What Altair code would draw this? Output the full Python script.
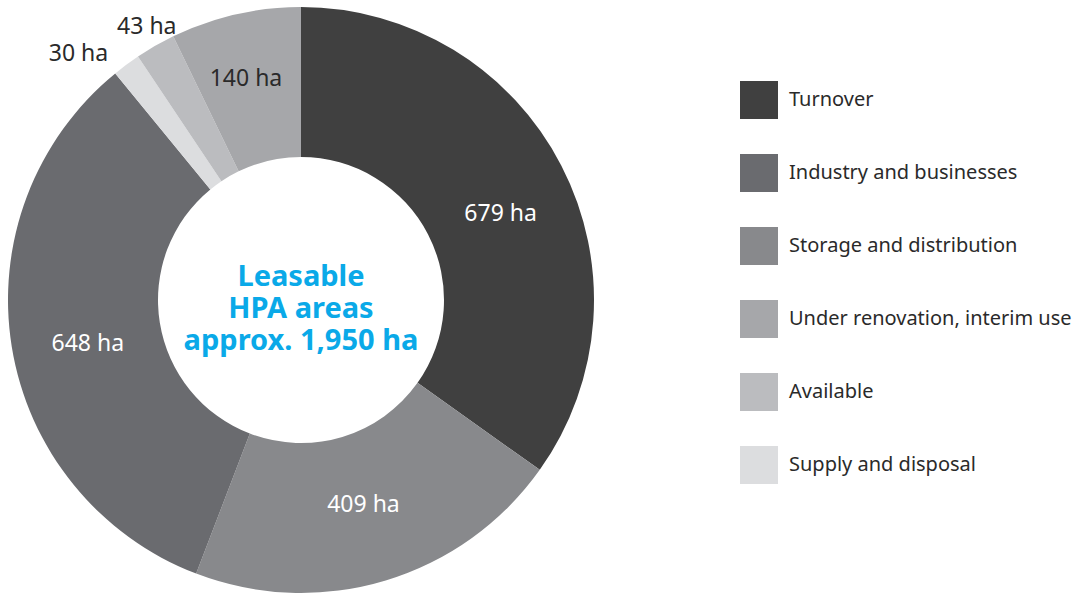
import altair as alt
import pandas as pd

categories = ["Turnover", "Storage and distribution", "Industry and businesses",
              "Supply and disposal", "Available", "Under renovation, interim use"]
values = [679, 409, 648, 30, 43, 140]
labels = ["679 ha", "409 ha", "648 ha", "30 ha", "43 ha", "140 ha"]
slice_order = [0, 1, 2, 3, 4, 5]

legend_order = ["Turnover", "Industry and businesses", "Storage and distribution",
                "Under renovation, interim use", "Available", "Supply and disposal"]
legend_colors = ["#404040", "#6a6b6f", "#88898c", "#a6a7aa", "#bbbcbf", "#dcdddf"]

df = pd.DataFrame({"category": categories, "value": values, "label": labels,
                   "order": slice_order})

CX, CY = 301, 300

arcs = alt.Chart(df).mark_arc(outerRadius=293, innerRadius=143).encode(
    theta=alt.Theta("value:Q", stack=True),
    order=alt.Order("order:Q"),
    x=alt.value(CX), y=alt.value(CY),
    color=alt.Color("category:N",
                    scale=alt.Scale(domain=legend_order, range=legend_colors),
                    sort=legend_order,
                    legend=alt.Legend(title=None, orient="none", legendX=740, legendY=81,
                                      symbolType="square", symbolSize=1444,
                                      symbolStrokeWidth=0, symbolOpacity=1,
                                      labelFontSize=20, labelColor="#2a2a2a",
                                      labelFont="Noto Sans", labelOffset=11,
                                      rowPadding=35, padding=0, labelLimit=400))
)


def label_layer(label, radius, color, dx=0, dy=0):
    return alt.Chart(df).transform_window(
        cum="sum(value)", sort=[alt.SortField("order")], frame=[None, 0]
    ).transform_joinaggregate(total="sum(value)").transform_calculate(
        mid="(datum.cum - datum.value/2) / datum.total * 2 * PI"
    ).transform_filter(alt.datum.label == label).mark_text(
        radius=radius, fontSize=23, font="Noto Sans", color=color, dx=dx, dy=dy
    ).encode(
        theta=alt.Theta("mid:Q", scale=None),
        x=alt.value(CX), y=alt.value(CY),
        text="label:N",
    )


layers = [
    label_layer(labels[0], 219, "#ffffff", dx=5, dy=14),
    label_layer(labels[1], 216, "#ffffff", dy=-2),
    label_layer(labels[2], 219, "#ffffff", dx=3, dy=9),
    label_layer(labels[3], 318, "#2a2a2a", dx=-33, dy=9),
    label_layer(labels[4], 316, "#2a2a2a", dx=3, dy=1),
    label_layer(labels[5], 228, "#2a2a2a", dx=-4, dy=1),
]

center = alt.Chart(pd.DataFrame({"t": ["Leasable\nHPA areas\napprox. 1,950 ha"]})).mark_text(
    fontSize=29, font="Noto Sans", fontWeight="bold", color="#0aa9e8",
    lineBreak="\n", lineHeight=32, align="center", baseline="middle"
).encode(x=alt.value(CX), y=alt.value(277), text="t:N")

chart = alt.layer(arcs, *layers, center).properties(
    width=1077, height=596, autosize=alt.AutoSizeParams(type="none"), padding=0,
    background="#ffffff"
).configure_view(stroke=None)

chart.save("out.html", embed_options={"renderer": "svg", "actions": False})
